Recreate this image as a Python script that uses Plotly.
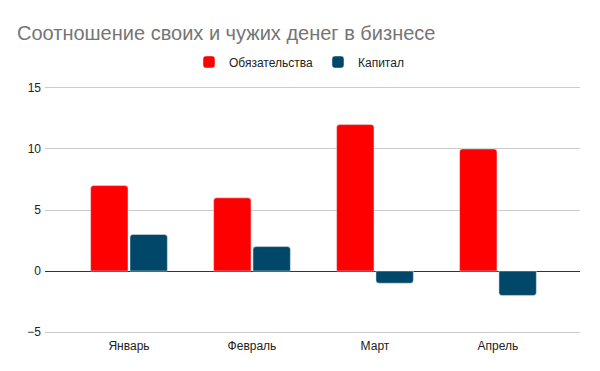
import plotly.graph_objects as go

months = ["Январь", "Февраль", "Март", "Апрель"]
liabilities = [7, 6, 12, 10]
equity = [3, 2, -1, -2]
y_ticks = [-5, 0, 5, 10, 15]

fig = go.Figure()
fig.add_trace(go.Bar(x=months, y=liabilities, name="Обязательства", marker_color="#ff0000"))
fig.add_trace(go.Bar(x=months, y=equity, name="Капитал", marker_color="#01476a"))

fig.update_layout(
    width=600, height=371,
    margin=dict(l=37, r=28, t=78, b=45, autoexpand=False),
    paper_bgcolor="white", plot_bgcolor="white",
    font=dict(family="Liberation Sans, Arial", size=12, color="#222"),
    title=dict(text="Соотношение своих и чужих денег в бизнесе", x=0.015, xanchor="left",
               xref="container", yref="container",
               y=1 - 25 / 371, yanchor="middle", font=dict(size=20, color="#757575")),
    legend=dict(orientation="h", x=0.485, xanchor="center", xref="container", yref="container",
                y=1 - 54 / 371, yanchor="middle", tracegroupgap=0,
                font=dict(size=12, color="#222"), itemwidth=30),
    barmode="group", bargap=0.36, bargroupgap=0.05, barcornerradius=3,
    showlegend=True,
)
fig.update_xaxes(range=[-0.683, 3.667], showgrid=False, showline=False, ticks="",
                 tickfont=dict(size=12, color="#222"), automargin=False, ticklabelstandoff=3)
fig.update_yaxes(range=[-5.16, 15.16], tickvals=y_ticks, gridcolor="#cccccc", gridwidth=1,
                 zeroline=True, zerolinecolor="#333333", zerolinewidth=1, automargin=False,
                 tickfont=dict(size=12, color="#222"), ticklabelstandoff=3)
fig.write_html("out.html")
